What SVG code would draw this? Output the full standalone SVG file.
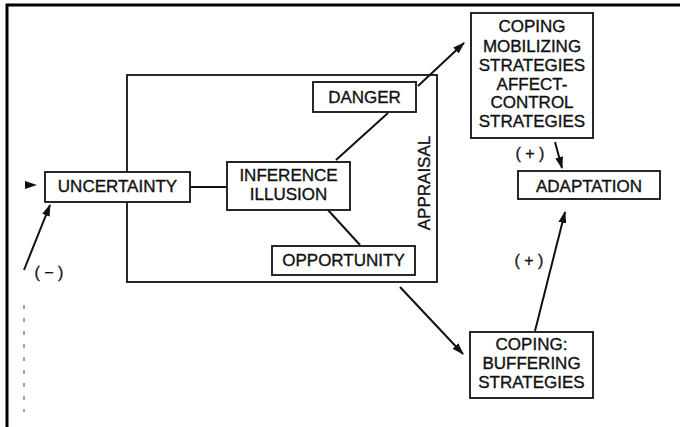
<svg xmlns="http://www.w3.org/2000/svg" width="680" height="427" viewBox="0 0 680 427">
  <style>
    .box { fill: #fff; stroke: #111; stroke-width: 1.8; }
    .frame { fill: none; stroke: #111; stroke-width: 1.8; }
    .lbl { font-family: "Liberation Sans", Arial, sans-serif; font-size: 17px; fill: #111; stroke: #111; stroke-width: 0.35; text-anchor: middle; }
    .sign { font-family: "Liberation Sans", Arial, sans-serif; font-size: 16px; fill: #111; stroke: #111; stroke-width: 0.3; text-anchor: middle; }
    .edge { fill: none; stroke: #111; stroke-width: 2; }
    .arrow { fill: none; stroke: #111; stroke-width: 2; marker-end: url(#head); }
  </style>
  <defs>
    <marker id="head" viewBox="0 0 12 8" refX="11" refY="4" markerWidth="12" markerHeight="8" markerUnits="userSpaceOnUse" orient="auto">
      <path d="M0,0 L12,4 L0,8 Z" fill="#111"/>
    </marker>
  </defs>

  <rect width="680" height="427" fill="#fff"/>

  <!-- page border -->
  <path d="M7,427 V5 H680" fill="none" stroke="#000" stroke-width="3"/>
  <!-- broken rule at left margin -->
  <line x1="24" y1="305" x2="24" y2="412" stroke="#444" stroke-width="1" stroke-dasharray="4 9"/>

  <!-- appraisal frame -->
  <g id="appraisal">
    <rect class="frame" x="127" y="75" width="310" height="207"/>
    <text class="lbl" font-size="16.5" transform="translate(430,183) rotate(-90)">APPRAISAL</text>
  </g>

  <g id="connectors">
    <!-- incoming arrow at the left -->
    <path d="M25,181 L37,185 L25,189 Z" fill="#111"/>
    <line class="arrow" x1="24" y1="270" x2="50" y2="205"/>
    <line class="edge" x1="190" y1="187" x2="227" y2="187"/>
    <line class="edge" x1="336" y1="160" x2="388" y2="113"/>
    <line class="edge" x1="328" y1="210" x2="360" y2="245"/>
    <line class="arrow" x1="418" y1="86" x2="464" y2="43"/>
    <line class="arrow" x1="555" y1="142" x2="562" y2="168"/>
    <line class="arrow" x1="535" y1="331" x2="565" y2="212"/>
    <line class="arrow" x1="400" y1="287" x2="463" y2="354"/>
  </g>

  <g id="uncertainty">
    <rect class="box" x="45" y="172" width="145" height="30"/>
    <text class="lbl" x="117.5" y="192">UNCERTAINTY</text>
  </g>

  <g id="inference">
    <rect class="box" x="227" y="162" width="123" height="48"/>
    <text class="lbl" font-size="16.5" x="288.5" y="181">INFERENCE</text>
    <text class="lbl" font-size="16.5" x="288.5" y="199.5">ILLUSION</text>
  </g>

  <g id="danger">
    <rect class="box" x="313" y="82" width="103" height="30"/>
    <text class="lbl" x="364.5" y="103">DANGER</text>
  </g>

  <g id="opportunity">
    <rect class="box" x="272" y="246" width="143" height="29"/>
    <text class="lbl" x="343.5" y="266">OPPORTUNITY</text>
  </g>

  <g id="coping-mobilizing">
    <rect class="box" x="471" y="13" width="122" height="125"/>
    <text class="lbl" x="532" y="32">COPING</text>
    <text class="lbl" x="532" y="52">MOBILIZING</text>
    <text class="lbl" x="532" y="71">STRATEGIES</text>
    <text class="lbl" x="532" y="90">AFFECT-</text>
    <text class="lbl" x="532" y="108">CONTROL</text>
    <text class="lbl" x="532" y="127">STRATEGIES</text>
  </g>

  <g id="adaptation">
    <rect class="box" x="518" y="171" width="142" height="28"/>
    <text class="lbl" x="589" y="192">ADAPTATION</text>
  </g>

  <g id="coping-buffering">
    <rect class="box" x="470" y="332" width="123" height="66"/>
    <text class="lbl" x="531.5" y="350">COPING:</text>
    <text class="lbl" x="531.5" y="369">BUFFERING</text>
    <text class="lbl" x="531.5" y="388">STRATEGIES</text>
  </g>

  <!-- signs on the arrows -->
  <text class="sign" x="49" y="278">( − )</text>
  <text class="sign" x="530" y="159">( + )</text>
  <text class="sign" x="529" y="266">( + )</text>
</svg>
